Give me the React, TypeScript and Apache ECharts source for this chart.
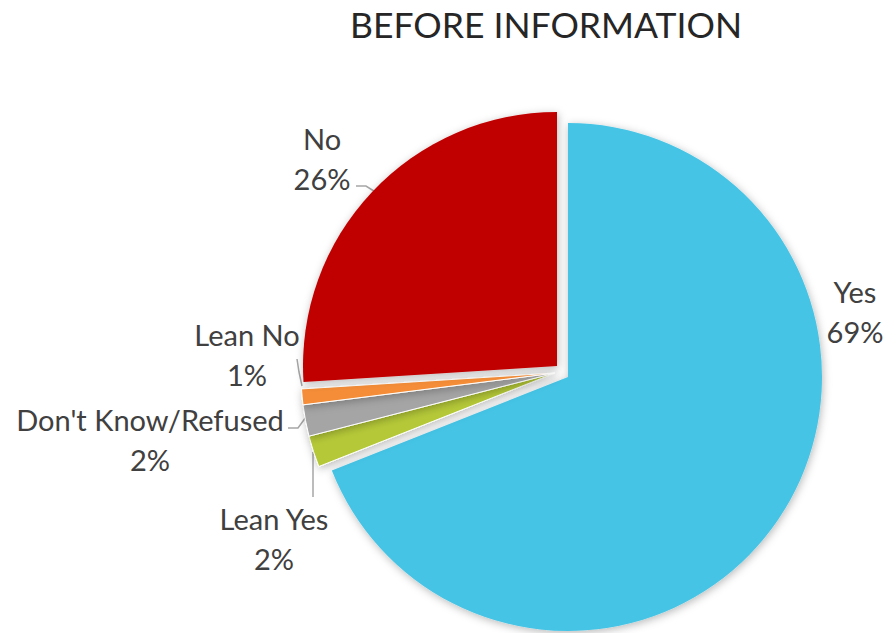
import React, { useEffect, useRef } from "react";
import * as echarts from "echarts";

const categories = ["Yes", "Lean Yes", "Don't Know/Refused", "Lean No", "No"];
const values = [69, 2, 2, 1, 26];
const colors = ["#45C4E6", "#B5C937", "#A5A5A5", "#F58D37", "#C00000"];
const titleText = "BEFORE INFORMATION";

// which slices each pie layer draws (Excel-style per-slice explosion)
const layers = [
  { show: [0], center: [568, 377] },
  { show: [1, 2, 3], center: [555, 373] },
  { show: [4], center: [557, 366] },
];

// label anchor positions and leader lines
const labelPos: Record<number, { x: number; y: number; line?: number[][] }> = {
  0: { x: 855, y: 311 },
  1: { x: 274, y: 538, line: [[313, 452], [313, 475], [313, 497]] },
  2: { x: 150, y: 439, line: [[306, 417], [298, 428], [288, 428]] },
  3: { x: 247, y: 354, line: [[302, 386], [299, 372], [297, 359]] },
  4: { x: 322, y: 158, line: [[377, 193], [366, 186], [356, 186]] },
};

const FONT = "Lato, 'Noto Sans', sans-serif";

export default function App() {
  const ref = useRef<HTMLDivElement>(null);
  useEffect(() => {
    document.body.style.margin = "0";
    if (!ref.current) return;
    const chart = echarts.init(ref.current, undefined, { renderer: "svg" });
    const series = layers.map((layer) => ({
      type: "pie",
      silent: true,
      center: layer.center,
      radius: 254,
      startAngle: 90,
      clockwise: true,
      avoidLabelOverlap: false,
      emphasis: { disabled: true },
      labelLayout: (params: any) => {
        const p = labelPos[params.dataIndex];
        const res: any = { x: p.x, y: p.y, align: "center", verticalAlign: "middle" };
        if (p.line) res.labelLinePoints = p.line;
        return res;
      },
      data: categories.map((name, i) => {
        const vis = layer.show.includes(i);
        return {
          name,
          value: values[i],
          itemStyle: vis
            ? {
                color: colors[i],
                borderColor: "#ffffff",
                borderWidth: i >= 1 && i <= 3 ? 1 : 0,
                shadowBlur: 8,
                shadowColor: "rgba(0,0,0,0.28)",
                shadowOffsetX: 1,
                shadowOffsetY: 2,
              }
            : { color: "rgba(0,0,0,0)", borderWidth: 0 },
          label: vis
            ? {
                show: true,
                position: "outside",
                formatter: `${name}\n${values[i]}%`,
                color: "#404040",
                fontSize: 29,
                lineHeight: 40,
                fontFamily: FONT,
              }
            : { show: false },
          labelLine: vis && i !== 0
            ? { show: true, lineStyle: { color: "#A6A6A6", width: 1.5 } }
            : { show: false },
        };
      }),
    }));
    chart.setOption({
      animation: false,
      backgroundColor: "#ffffff",
      graphic: [
        {
          type: "text",
          x: 546,
          y: 24,
          style: {
            text: titleText,
            align: "center",
            verticalAlign: "middle",
            fontSize: 35.5,
            fontFamily: FONT,
            fill: "#262626",
          },
        },
      ],
      series,
    });
    return () => chart.dispose();
  }, []);
  return <div ref={ref} style={{ width: 892, height: 633 }} />;
}
